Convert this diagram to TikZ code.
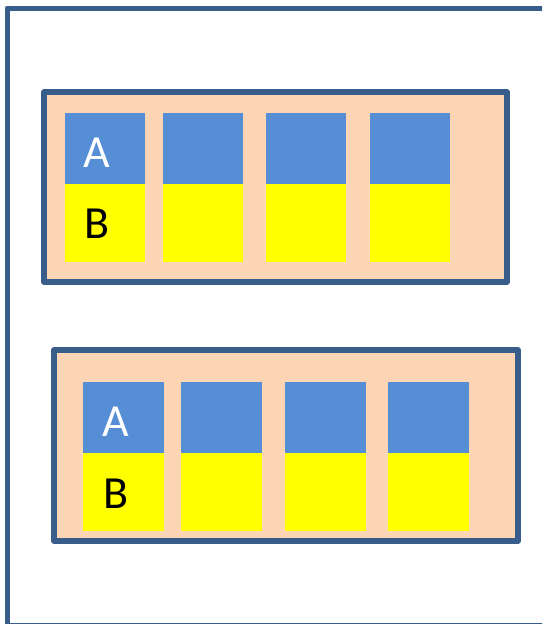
\documentclass[tikz,border=0pt]{standalone}
\usepackage{fontspec}
\setmainfont{Carlito}
\definecolor{frame}{HTML}{385D8A}
\definecolor{peach}{HTML}{FCD5B5}
\definecolor{cellblue}{HTML}{558ED5}
\definecolor{cellyellow}{HTML}{FFFF00}
\begin{document}
\begin{tikzpicture}[x=1pt,y=-1pt,
  panel/.style={draw=frame, fill=peach, line width=5.5pt, line join=round, anchor=north west, inner sep=0pt, outer sep=0pt},
  topcell/.style={fill=cellblue, anchor=north west, minimum height=71pt, inner sep=0pt, outer sep=0pt},
  botcell/.style={fill=cellyellow, anchor=north west, minimum height=78pt, inner sep=0pt, outer sep=0pt},
  lbl/.style={font=\fontsize{46}{46}\selectfont, inner sep=0pt}]
\useasboundingbox (0,0) rectangle (542,624);
\clip (0,0) rectangle (542,624);
\fill[white] (0,0) rectangle (542,624);
\draw[frame, line width=5pt, line join=round] (7,8) rectangle (550,625);
% top panel
\node[panel, minimum width=463pt, minimum height=190pt] (p1) at (44,92) {};
\foreach \x [count=\i] in {65,163,266,370}{
  \node[topcell, minimum width=80pt] (p1a\i) at (\x,113) {};
  \node[botcell, minimum width=80pt] (p1b\i) at (\x,184) {};
}
\node[lbl, text=white] (la1) at (97,153) {A};
\node[lbl, text=black] (lb1) at (97,224) {B};
% bottom panel
\node[panel, minimum width=464pt, minimum height=191pt] (p2) at (54,350) {};
\foreach \x [count=\i] in {83,181,285,388}{
  \node[topcell, minimum width=81pt] (p2a\i) at (\x,382) {};
  \node[botcell, minimum width=81pt] (p2b\i) at (\x,453) {};
}
\node[lbl, text=white] (la2) at (116,422) {A};
\node[lbl, text=black] (lb2) at (116,494) {B};
\end{tikzpicture}
\end{document}
